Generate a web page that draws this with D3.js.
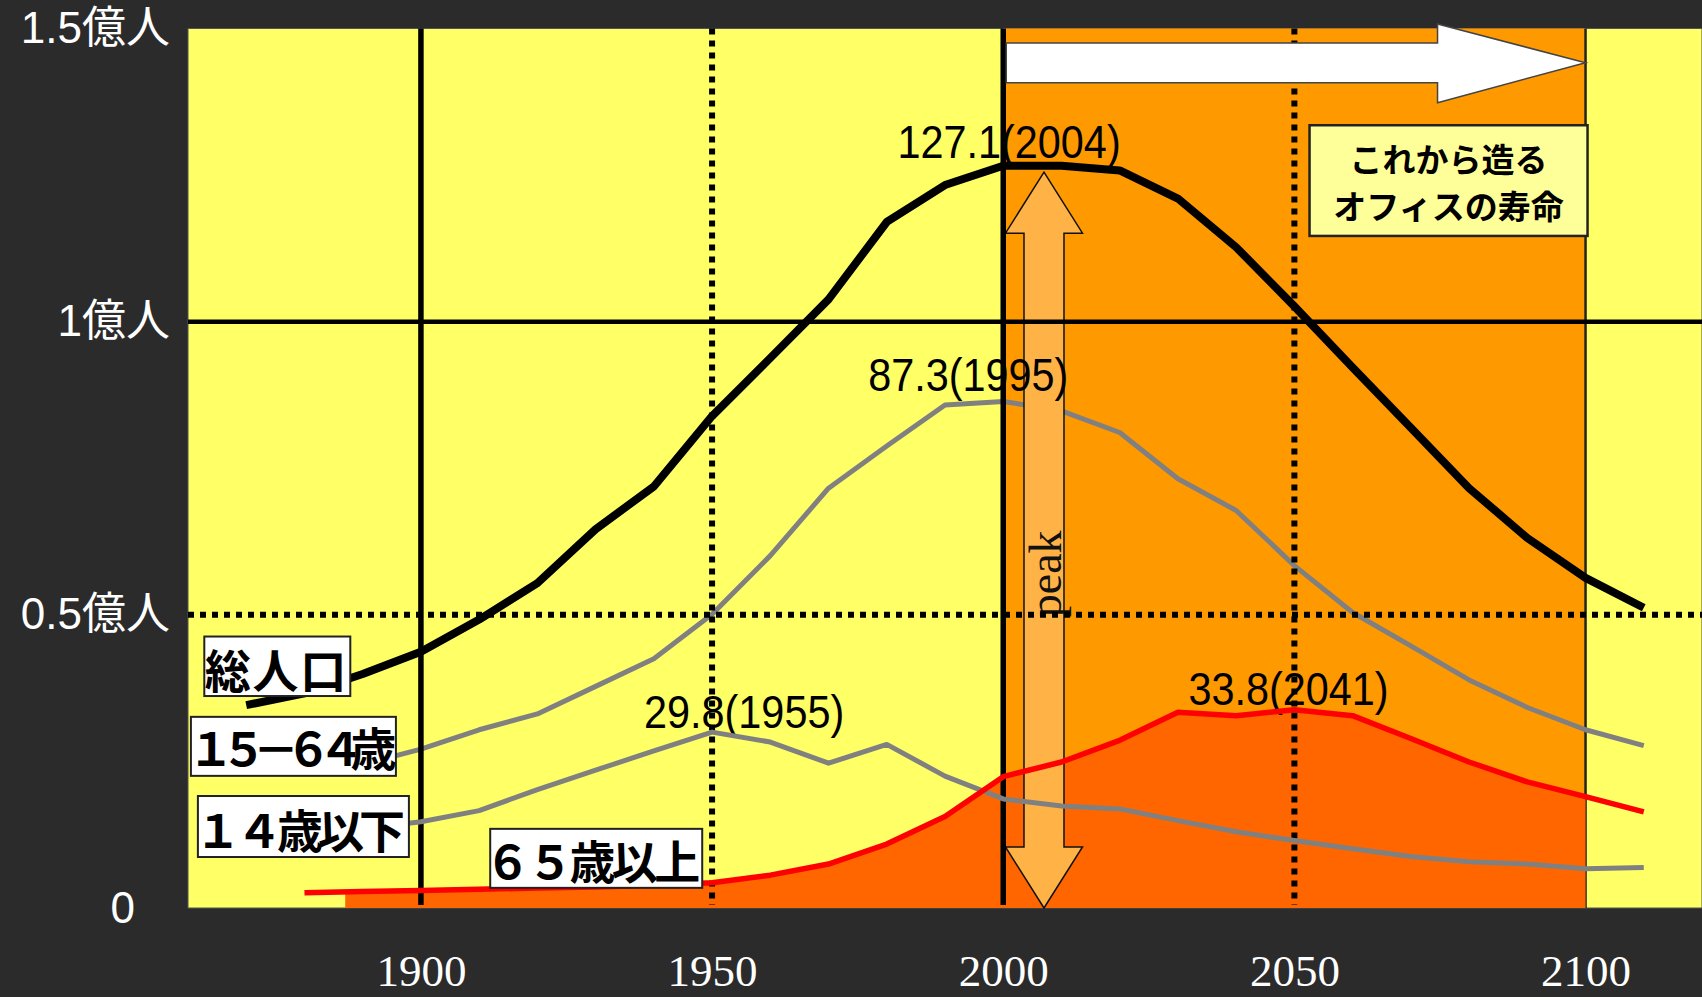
<!DOCTYPE html>
<html>
<head>
<meta charset="utf-8">
<script src="https://cdn.jsdelivr.net/npm/d3@7"></script>
<style>
  body { margin: 0; background: #2b2b2b; }
  svg { display: block; }
</style>
</head>
<body>
<div id="chart"></div>
<script>
// population of Japan, millions (census up to 2000, projection after)
var years     = [1870, 1880, 1890, 1900, 1910, 1920, 1930, 1940, 1950, 1960, 1970, 1980, 1990, 2000, 2010, 2020, 2030, 2040, 2050, 2060, 2070, 2080, 2090, 2100, 2110];
var total     = [34.6, 36.6, 39.9, 43.7, 49.2, 55.4, 64.6, 71.9, 83.9, 93.8, 103.8, 117.0, 123.3, 126.6, 126.6, 125.8, 121.0, 112.7, 102.6, 92.2, 81.9, 71.6, 63.1, 56.3, 51.2];
var age15to64 = [null, null, 24.5, 27.1, 30.4, 33.1, 37.8, 42.5, 50.1, 60.1, 71.6, 78.8, 85.8, 86.4, 84.8, 81.1, 73.2, 67.8, 58.4, 50.4, 44.7, 38.9, 34.2, 30.4, 27.7];
var age0to14  = [null, null, 13.5, 14.7, 16.6, 20.2, 23.5, 26.8, 30.0, 28.3, 24.7, 27.9, 22.5, 18.6, 17.4, 16.9, 14.9, 13.0, 11.5, 10.1, 8.8, 7.9, 7.5, 6.7, 6.9];
var age65plus = [null, 2.6, 2.8, 3.0, 3.2, 3.4, 3.6, 3.9, 4.3, 5.6, 7.5, 10.9, 15.6, 22.4, 24.9, 28.6, 33.4, 32.8, 33.8, 32.8, 28.9, 24.9, 21.5, 19.0, 16.4];

// axis ticks
var yTicks = [0, 50, 100, 150];
var yTickLabels = ["0", "0.5億人", "1億人", "1.5億人"];
var xTicks = [1900, 1950, 2000, 2050, 2100];

// peak annotations
var peakValues = [127.1, 87.3, 29.8, 33.8];
var peakYears  = [2004, 1995, 1955, 2041];

var seriesNames = ["総人口", "１５－６４歳", "１４歳以下", "６５歳以上"];
var officeText = ["これから造る", "オフィスの寿命"];

// set the dimensions and margins of the graph
var margin = {top: 28.5, right: 0, bottom: 89, left: 188},
  width = 1702 - margin.left - margin.right,
  height = 997 - margin.top - margin.bottom;

var svg = d3.select("#chart")
.append("svg")
  .attr("width", width + margin.left + margin.right)
  .attr("height", height + margin.top + margin.bottom)
  .style("background", "#2b2b2b")
.append("g")
  .attr("transform", "translate(" + margin.left + "," + margin.top + ")");

var x = d3.scaleLinear().domain([1860, 2120]).range([0, width]);
var y = d3.scaleLinear().domain([0, 150]).range([height, 0]);

function rows(values) {
  return years.map(function(yr, i) { return {year: yr, value: values[i]}; });
}

var sans = "'Liberation Sans', 'Noto Sans CJK JP', sans-serif";
var cjk = "'Noto Sans CJK JP', sans-serif";
var serif = "'Liberation Serif', serif";

// plot background
svg.append("rect")
  .attr("width", width).attr("height", height)
  .attr("fill", "#ffff66")
  .attr("stroke", "#555").attr("stroke-width", 1);

// future band 2000-2100
svg.append("rect")
  .attr("x", x(2000)).attr("y", 0)
  .attr("width", x(2100) - x(2000)).attr("height", height)
  .attr("fill", "#ff9900");
svg.append("line")
  .attr("x1", x(2100)).attr("x2", x(2100))
  .attr("y1", 0).attr("y2", height)
  .attr("stroke", "#222").attr("stroke-width", 2.5);

// 65+ filled area
svg.append("clipPath").attr("id", "areaClip")
 .append("rect")
  .attr("x", x(1887)).attr("y", 0)
  .attr("width", x(2100) - x(1887)).attr("height", height);

svg.append("path")
  .datum(rows(age65plus))
  .attr("clip-path", "url(#areaClip)")
  .attr("fill", "#ff6600")
  .attr("d", d3.area()
    .defined(function(d) { return d.value != null; })
    .x(function(d) { return x(d.year); })
    .y0(height)
    .y1(function(d) { return y(d.value); }));

var line = d3.line()
  .defined(function(d) { return d.value != null; })
  .x(function(d) { return x(d.year); })
  .y(function(d) { return y(d.value); });

function drawLine(values, color, w) {
  svg.append("path")
    .datum(rows(values))
    .attr("fill", "none")
    .attr("stroke", color)
    .attr("stroke-width", w)
    .attr("stroke-linejoin", "round")
    .attr("d", line);
}

// 15-64 sits behind the peak arrow
drawLine(age15to64, "#808080", 5);

// double headed "peak" arrow
var ax = x(2007), aTop = y(125.5), aBot = y(0), hl = 61, hw = 38.5, sw = 20;
svg.append("path")
  .attr("d", "M" + ax + "," + aTop +
    "L" + (ax + hw) + "," + (aTop + hl) + "L" + (ax + sw) + "," + (aTop + hl) +
    "L" + (ax + sw) + "," + (aBot - hl) + "L" + (ax + hw) + "," + (aBot - hl) +
    "L" + ax + "," + aBot +
    "L" + (ax - hw) + "," + (aBot - hl) + "L" + (ax - sw) + "," + (aBot - hl) +
    "L" + (ax - sw) + "," + (aTop + hl) + "L" + (ax - hw) + "," + (aTop + hl) + "Z")
  .attr("fill", "#ffb347")
  .attr("stroke", "#111").attr("stroke-width", 1.5);

svg.append("text")
  .attr("transform", "translate(" + (ax + 17) + "," + y(57) + ") rotate(-90)")
  .attr("text-anchor", "middle")
  .attr("font-family", serif)
  .attr("font-size", "46px")
  .attr("fill", "#111")
  .text("peak");

// peak value labels
var labelAnchor = [2001, 1994, 1955.5, 2049];
peakValues.forEach(function(v, i) {
  svg.append("text")
    .attr("transform", "translate(" + x(labelAnchor[i]) + "," + (y(v) - 5) + ") scale(0.9,1)")
    .attr("text-anchor", "middle")
    .attr("font-family", sans)
    .attr("font-size", "46px")
    .attr("fill", "#000")
    .text(v.toFixed(1) + "(" + peakYears[i] + ")");
});

// grid lines
yTicks.filter(function(t) { return t > 0 && t < 150; }).forEach(function(t) {
  svg.append("line")
    .attr("x1", 0).attr("x2", width)
    .attr("y1", y(t)).attr("y2", y(t))
    .attr("stroke", "#000")
    .attr("stroke-width", t % 100 === 0 ? 4.5 : 6)
    .attr("stroke-dasharray", t % 100 === 0 ? null : "6,6");
});
xTicks.filter(function(t) { return t < 2100; }).forEach(function(t) {
  svg.append("line")
    .attr("x1", x(t)).attr("x2", x(t))
    .attr("y1", 0).attr("y2", height - 3)
    .attr("stroke", "#000")
    .attr("stroke-width", t % 100 === 0 ? 5.5 : 6)
    .attr("stroke-dasharray", t % 100 === 0 ? null : "6,6");
});

drawLine(total, "#000", 8);
drawLine(age0to14, "#808080", 5);
drawLine(age65plus, "#ff0000", 5.5);

// series label boxes
var boxes = [
  {year: 1862.8, value: 46.3, w: 146, h: 59.5, tx: 0.5, len: 141.5, base: 51.5},
  {year: 1860.5, value: 32.6, w: 205, h: 59, tx: -3, len: 208.5, base: 48.7},
  {year: 1861.7, value: 19.1, w: 211, h: 61, tx: -3, len: 210, base: 52},
  {year: 1911.9, value: 13.5, w: 212, h: 59, tx: -5.5, len: 215.5, base: 50.3}
];
boxes.forEach(function(b, i) {
  var bx = x(b.year), by = y(b.value);
  svg.append("rect")
    .attr("x", bx).attr("y", by)
    .attr("width", b.w).attr("height", b.h)
    .attr("fill", "#fff")
    .attr("stroke", "#222").attr("stroke-width", 2);
  svg.append("text")
    .attr("x", bx + b.tx).attr("y", by + b.base)
    .attr("font-family", cjk)
    .attr("font-weight", "bold")
    .attr("font-size", "46px")
    .attr("textLength", b.len)
    .attr("lengthAdjust", "spacing")
    .attr("fill", "#000")
    .text(seriesNames[i]);
});

// white arrow over the future band
var sx0 = x(2000) + 3, tip = x(2100), hb = tip - 148;
svg.append("path")
  .attr("d", "M" + sx0 + ",14.5L" + hb + ",14.5L" + hb + ",-4.5L" + tip + ",34.2L" +
    hb + ",74.2L" + hb + ",54.2L" + sx0 + ",54.2Z")
  .attr("fill", "#fff")
  .attr("stroke", "#444").attr("stroke-width", 1.5);

// office lifetime box
var ob = {right: x(2100) + 2, top: y(133.5), w: 278, h: 110.7};
svg.append("rect")
  .attr("x", ob.right - ob.w).attr("y", ob.top)
  .attr("width", ob.w).attr("height", ob.h)
  .attr("fill", "#ffff99")
  .attr("stroke", "#222").attr("stroke-width", 2.5);
officeText.forEach(function(t, i) {
  svg.append("text")
    .attr("x", ob.right - ob.w / 2)
    .attr("y", ob.top + 47 + i * 47)
    .attr("text-anchor", "middle")
    .attr("font-family", cjk)
    .attr("font-weight", "bold")
    .attr("font-size", "33px")
    .attr("fill", "#000")
    .text(t);
});

// y axis labels
var yAxis = svg.append("g")
  .call(d3.axisLeft(y).tickValues(yTicks).tickSize(0).tickPadding(18)
    .tickFormat(function(d, i) { return yTickLabels[i]; }));
yAxis.select(".domain").remove();
yAxis.selectAll("text")
  .attr("font-family", sans)
  .attr("font-size", "44px")
  .attr("fill", "#fff")
  .attr("dx", function(d) { return d === 0 ? -35 : 0; });

// x axis labels
var xAxis = svg.append("g")
  .attr("transform", "translate(0," + height + ")")
  .call(d3.axisBottom(x).tickValues(xTicks).tickSize(0).tickPadding(46)
    .tickFormat(d3.format("d")));
xAxis.select(".domain").remove();
xAxis.selectAll("text")
  .attr("font-family", serif)
  .attr("font-size", "45px")
  .attr("fill", "#fff");
</script>
</body>
</html>
